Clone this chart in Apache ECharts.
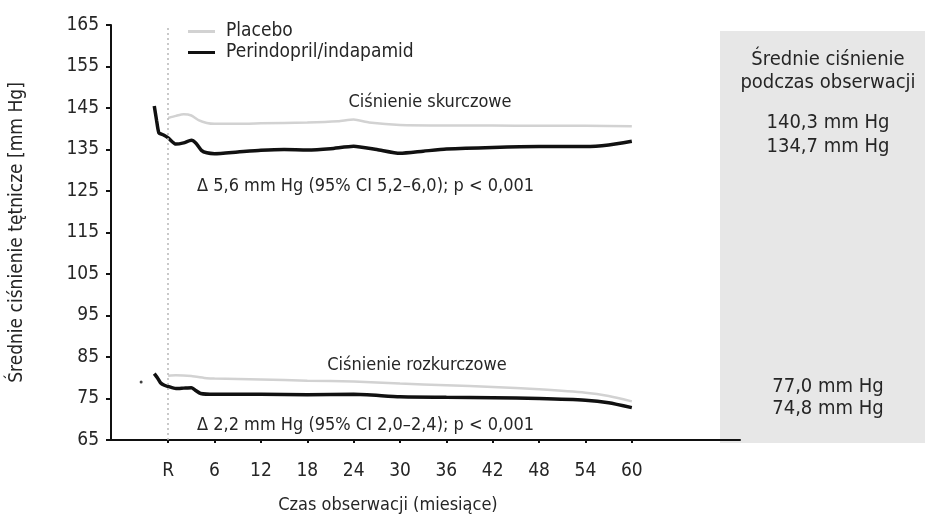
<!DOCTYPE html>
<html>
<head>
<meta charset="utf-8">
<script src="https://cdn.jsdelivr.net/npm/echarts@6/dist/echarts.min.js"></script>
<style>
  html,body{margin:0;padding:0;background:#fff;}
  #chart{width:925px;height:517px;}
</style>
</head>
<body>
<div id="chart"></div>
<script>
// month ticks on the x axis, 0 is randomisation ("R")
const monthTicks = [0, 6, 12, 18, 24, 30, 36, 42, 48, 54, 60]

// systolic, perindopril/indapamid
const sysPeriMonths = [-1.8, -1.5, -1.2, -0.6, 0, 1, 2, 3, 3.6, 4.3, 5, 6, 9, 12, 15, 18, 21, 24, 27, 30, 33, 36, 42, 48, 54, 57, 60]
const sysPeriVals = [145.5, 142, 139, 138.5, 137.8, 136.3, 136.6, 137.2, 136.5, 134.8, 134.2, 134, 134.4, 134.8, 135, 134.9, 135.2, 135.8, 135, 134.1, 134.6, 135.1, 135.5, 135.7, 135.7, 136.1, 137]

// systolic, placebo
const sysPlacMonths = [0, 1, 2, 3, 4, 5, 6, 9, 12, 18, 22, 24, 26, 30, 36, 42, 48, 54, 60]
const sysPlacVals = [142.6, 143.1, 143.5, 143.2, 142, 141.4, 141.2, 141.2, 141.3, 141.5, 141.8, 142.2, 141.5, 140.9, 140.8, 140.8, 140.7, 140.7, 140.6]

// diastolic, placebo
const diaPlacMonths = [0, 1, 3, 5, 6, 12, 18, 24, 30, 36, 42, 48, 54, 57, 60]
const diaPlacVals = [80.5, 80.6, 80.4, 79.9, 79.8, 79.6, 79.3, 79.1, 78.6, 78.2, 77.8, 77.2, 76.4, 75.6, 74.3]

// diastolic, perindopril/indapamid
const diaPeriMonths = [-1.8, -1.4, -1, -0.5, 0, 1, 2, 3, 3.5, 4.2, 6, 12, 18, 24, 30, 36, 42, 48, 54, 57, 60]
const diaPeriVals = [81, 80, 78.8, 78.2, 77.9, 77.4, 77.5, 77.6, 77, 76.2, 76, 76, 75.9, 76, 75.4, 75.3, 75.2, 75, 74.6, 74, 72.8]

// lone baseline dot
const dotMonths = [-3.5]
const dotVals = [79]

const FONT = '"Liberation Sans Narrow", "DejaVu Sans Condensed", sans-serif'
const TXT = '#262626'

function pairs(xs, ys){
  return xs.map(function(x, i){ return [x, ys[i]] })
}

function label(x, y, text, size, align){
  return {type: 'text', x: x, y: y, style: {text: text, fontFamily: FONT, fontSize: size, fill: TXT, align: align || 'center', verticalAlign: 'middle'}}
}

const chart = echarts.init(document.getElementById('chart'), null, {renderer: 'canvas'})

const placeboStyle = {color: '#d2d2d2', width: 2.5}
const periStyle = {color: '#111', width: 3.5}

const option = {
  backgroundColor: '#fff',
  animation: false,
  textStyle: {fontFamily: FONT},
  grid: {left: 110, right: 185, top: 25, bottom: 77},
  legend: {
    orient: 'vertical',
    left: 183,
    top: 17,
    itemWidth: 27,
    itemHeight: 3,
    itemGap: 2,
    icon: 'rect',
    data: ['Placebo', 'Perindopril/indapamid'],
    textStyle: {fontFamily: FONT, fontSize: 19, lineHeight: 19, color: TXT, padding: [0, 0, 0, 6]}
  },
  xAxis: {
    type: 'value',
    min: -7.4,
    max: 74,
    splitLine: {show: false},
    axisLine: {show: true, onZero: false, lineStyle: {color: '#111', width: 2}},
    axisTick: {show: true, customValues: monthTicks, length: 3, lineStyle: {color: '#111', width: 2}},
    axisLabel: {
      customValues: monthTicks,
      margin: 22,
      fontSize: 19,
      color: TXT,
      fontFamily: FONT,
      formatter: function(v){ return v === 0 ? 'R' : String(v) }
    }
  },
  yAxis: {
    type: 'value',
    min: 65,
    max: 165,
    interval: 10,
    name: 'Średnie ciśnienie tętnicze [mm Hg]',
    nameLocation: 'middle',
    nameGap: 84,
    nameTextStyle: {fontFamily: FONT, fontSize: 19, color: TXT},
    splitLine: {show: false},
    axisLine: {show: true, onZero: false, lineStyle: {color: '#111', width: 2}},
    axisTick: {show: true, length: 5, lineStyle: {color: '#111', width: 2}},
    axisLabel: {margin: 12, fontSize: 19, color: TXT, fontFamily: FONT}
  },
  graphic: [
    {type: 'rect', z: -10, shape: {x: 720, y: 31, width: 205, height: 412}, style: {fill: '#e7e7e7'}},
    label(828, 60, 'Średnie ciśnienie', 20),
    label(828, 83, 'podczas obserwacji', 20),
    label(828, 123, '140,3 mm Hg', 20),
    label(828, 147, '134,7 mm Hg', 20),
    label(828, 387, '77,0 mm Hg', 20),
    label(828, 409, '74,8 mm Hg', 20),
    label(430, 102, 'Ciśnienie skurczowe', 18),
    label(197, 186, 'Δ 5,6 mm Hg (95% CI 5,2–6,0); p < 0,001', 18, 'left'),
    label(417, 365, 'Ciśnienie rozkurczowe', 18),
    label(197, 425, 'Δ 2,2 mm Hg (95% CI 2,0–2,4); p < 0,001', 18, 'left'),
    label(388, 505, 'Czas obserwacji (miesiące)', 18)
  ],
  series: [
    {
      name: 'Placebo',
      type: 'line',
      showSymbol: false,
      smooth: 0.2,
      color: placeboStyle.color,
      lineStyle: placeboStyle,
      data: pairs(sysPlacMonths, sysPlacVals),
      markLine: {
        silent: true,
        symbol: 'none',
        label: {show: false},
        lineStyle: {color: '#b8b8b8', type: [2, 3], width: 1.5},
        data: [{xAxis: 0}]
      }
    },
    {
      name: 'Placebo',
      type: 'line',
      showSymbol: false,
      smooth: 0.2,
      color: placeboStyle.color,
      lineStyle: placeboStyle,
      data: pairs(diaPlacMonths, diaPlacVals)
    },
    {
      name: 'Perindopril/indapamid',
      type: 'line',
      showSymbol: false,
      smooth: 0.2,
      color: periStyle.color,
      lineStyle: periStyle,
      data: pairs(sysPeriMonths, sysPeriVals)
    },
    {
      name: 'Perindopril/indapamid',
      type: 'line',
      showSymbol: false,
      smooth: 0.2,
      color: periStyle.color,
      lineStyle: periStyle,
      data: pairs(diaPeriMonths, diaPeriVals)
    },
    {
      name: 'dot',
      type: 'scatter',
      symbolSize: 3,
      itemStyle: {color: '#111'},
      data: pairs(dotMonths, dotVals)
    }
  ]
}
chart.setOption(option)
</script>
</body>
</html>
